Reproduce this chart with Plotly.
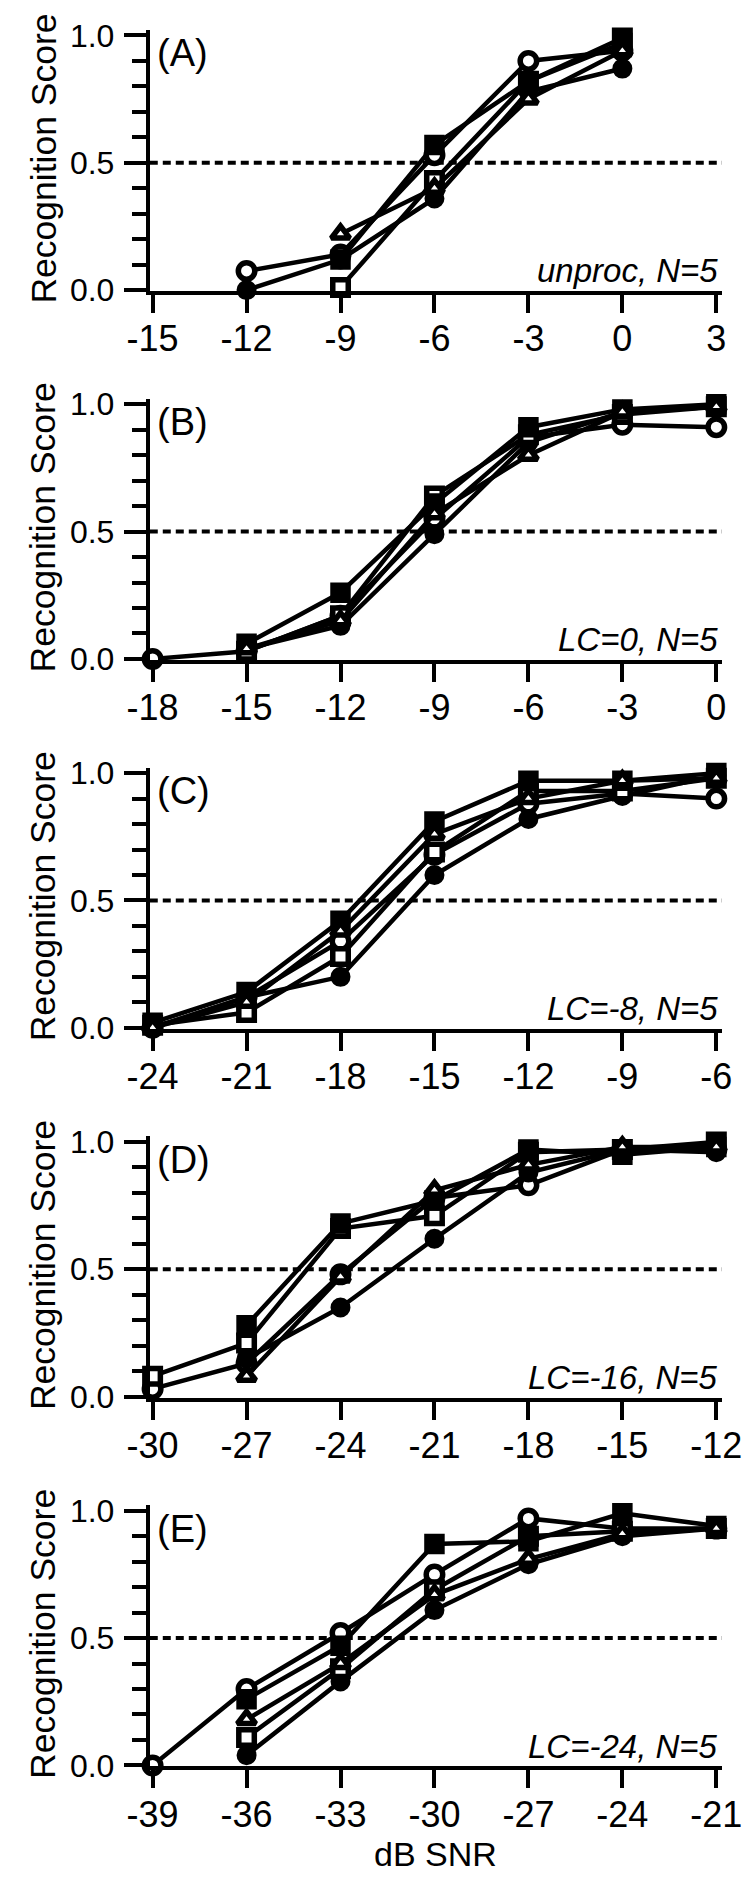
import plotly.graph_objects as go

# ---------------- data ----------------
panel_letters = ["(A)", "(B)", "(C)", "(D)", "(E)"]
panel_notes = ["unproc, N=5", "LC=0, N=5", "LC=-8, N=5", "LC=-16, N=5", "LC=-24, N=5"]

x_A = [-12, -9, -6, -3, 0]
x_B = [-18, -15, -12, -9, -6, -3, 0]
x_C = [-24, -21, -18, -15, -12, -9, -6]
x_D = [-30, -27, -24, -21, -18, -15, -12]
x_E = [-39, -36, -33, -30, -27, -24, -21]

ticks_A = [-15, -12, -9, -6, -3, 0, 3]
ticks_B = [-18, -15, -12, -9, -6, -3, 0]
ticks_C = [-24, -21, -18, -15, -12, -9, -6]
ticks_D = [-30, -27, -24, -21, -18, -15, -12]
ticks_E = [-39, -36, -33, -30, -27, -24, -21]

# series: open circle, filled circle, open square, filled square, open triangle
A_open_circle = [0.075, 0.14, 0.53, 0.90, 0.94]
A_filled_circle = [0.00, 0.12, 0.36, 0.78, 0.87]
A_open_square = [None, 0.01, 0.43, 0.82, 0.99]
A_filled_square = [None, 0.12, 0.57, 0.82, 0.97]
A_open_triangle = [None, 0.22, 0.40, 0.75, 0.94]

B_open_circle = [0.00, 0.03, 0.17, 0.55, 0.87, 0.92, 0.91]
B_filled_circle = [None, 0.04, 0.13, 0.49, 0.85, 0.97, 0.99]
B_open_square = [None, 0.03, 0.17, 0.64, 0.88, 0.96, 0.99]
B_filled_square = [None, 0.06, 0.26, 0.61, 0.91, 0.98, 1.00]
B_open_triangle = [None, 0.04, 0.15, 0.57, 0.80, 0.97, 0.99]

C_open_circle = [0.00, 0.12, 0.34, 0.68, 0.88, 0.92, 0.90]
C_filled_circle = [0.00, 0.12, 0.20, 0.60, 0.82, 0.91, 0.99]
C_open_square = [0.01, 0.06, 0.28, 0.69, 0.93, 0.93, 0.98]
C_filled_square = [0.02, 0.14, 0.42, 0.81, 0.97, 0.97, 1.00]
C_open_triangle = [0.00, 0.10, 0.38, 0.76, 0.90, 0.97, 0.98]

D_open_circle = [0.03, 0.13, 0.48, 0.78, 0.83, 0.97, 0.97]
D_filled_circle = [None, 0.15, 0.35, 0.62, 0.88, 0.97, 0.96]
D_open_square = [0.08, 0.21, 0.66, 0.71, 0.96, 0.97, 1.00]
D_filled_square = [None, 0.28, 0.68, 0.77, 0.97, 0.95, 0.98]
D_open_triangle = [None, 0.08, 0.47, 0.81, 0.91, 0.98, 0.98]

E_open_circle = [0.00, 0.30, 0.52, 0.75, 0.97, 0.93, 0.93]
E_filled_circle = [None, 0.04, 0.33, 0.61, 0.79, 0.90, 0.93]
E_open_square = [None, 0.11, 0.38, 0.69, 0.90, 0.92, 0.93]
E_filled_square = [None, 0.26, 0.47, 0.87, 0.88, 0.99, 0.94]
E_open_triangle = [None, 0.18, 0.40, 0.67, 0.81, 0.91, 0.93]

panels = [
    (x_A, ticks_A, [A_open_circle, A_filled_circle, A_open_square, A_filled_square, A_open_triangle]),
    (x_B, ticks_B, [B_open_circle, B_filled_circle, B_open_square, B_filled_square, B_open_triangle]),
    (x_C, ticks_C, [C_open_circle, C_filled_circle, C_open_square, C_filled_square, C_open_triangle]),
    (x_D, ticks_D, [D_open_circle, D_filled_circle, D_open_square, D_filled_square, D_open_triangle]),
    (x_E, ticks_E, [E_open_circle, E_filled_circle, E_open_square, E_filled_square, E_open_triangle]),
]

# ---------------- styling ----------------
W, H = 750, 1884
FONT = "Liberation Sans, Arial, Helvetica, sans-serif"
series_style = [
    dict(symbol="circle", color="white", size=16.5),
    dict(symbol="circle", color="black", size=14.5),
    dict(symbol="square", color="white", size=15.5),
    dict(symbol="square", color="black", size=15),
    dict(symbol="triangle-up", color="white", size=16),
]
MARKER_LINE = 5.5

ax_left_px, ax_right_px = 126, 733
panel_top0 = 15.7      # pixel of y=1.0 in first panel
panel_step = 374.6
unit_px = 258.6
y_lo, y_hi = -0.004, 1.022
px_per_db = 33.2

fig = go.Figure()
layout = dict(width=W, height=H, margin=dict(l=0, r=0, t=0, b=0),
              paper_bgcolor="white", plot_bgcolor="white", showlegend=False,
              font=dict(family=FONT, color="black"))
shapes, annotations = [], []

for i, (xs, ticks, series) in enumerate(panels):
    n = "" if i == 0 else str(i + 1)
    y1_px = panel_top0 + panel_step * i
    top_px = y1_px - (y_hi - 1) * unit_px
    bot_px = y1_px + unit_px + (-y_lo) * unit_px
    xmin, xmax = ticks[0], ticks[-1]
    layout["xaxis" + n] = dict(
        domain=[ax_left_px / W, ax_right_px / W],
        range=[xmin - 3 / px_per_db, xmax + 6 / px_per_db],
        anchor="y" + n, tickvals=ticks, ticktext=[str(t) for t in ticks],
        showline=True, linewidth=4, linecolor="black", mirror=False,
        ticks="outside", ticklen=18, tickwidth=4, tickcolor="black",
        ticklabelstandoff=-5,
        tickfont=dict(family=FONT, size=36, color="black"),
        showgrid=False, zeroline=False, fixedrange=True,
    )
    layout["yaxis" + n] = dict(
        domain=[1 - bot_px / H, 1 - top_px / H],
        range=[y_lo, y_hi], anchor="x" + n,
        tickvals=[0, 0.5, 1.0], ticktext=["0.0", "0.5", "1.0"],
        showline=True, linewidth=4, linecolor="black",
        ticks="outside", ticklen=22, tickwidth=4, tickcolor="black",
        ticklabelstandoff=3,
        minor=dict(tickvals=[0.1, 0.2, 0.3, 0.4, 0.6, 0.7, 0.8, 0.9],
                   ticks="outside", ticklen=14, tickwidth=4, tickcolor="black"),
        tickfont=dict(family=FONT, size=32, color="black"),
        showgrid=False, zeroline=False, fixedrange=True,
    )
    shapes.append(dict(type="line", xref="x" + n + " domain", x0=0, x1=1,
                       yref="y" + n, y0=0.5, y1=0.5, layer="below",
                       line=dict(color="black", width=4, dash="8px,5px")))
    for ys, st in zip(series, series_style):
        fig.add_trace(go.Scatter(
            x=xs, y=ys, xaxis="x" + n, yaxis="y" + n, mode="lines+markers",
            connectgaps=False, cliponaxis=False,
            line=dict(color="black", width=4.5),
            marker=dict(symbol=st["symbol"], size=st["size"], color=st["color"],
                        line=dict(color="black", width=MARKER_LINE)),
        ))
    annotations.append(dict(text=panel_letters[i], xref="paper", yref="paper",
                            x=131.5 / W, y=1 - (y1_px + 18) / H, xanchor="left", yanchor="middle",
                            showarrow=False, font=dict(family=FONT, size=38, color="black")))
    annotations.append(dict(text="<i>" + panel_notes[i] + "</i>", xref="paper", yref="paper",
                            x=731 / W, y=1 - (y1_px + 239) / H, xanchor="right", yanchor="middle",
                            showarrow=False, font=dict(family=FONT, size=33, color="black")))
    annotations.append(dict(text="Recognition Score", xref="paper", yref="paper",
                            x=12.8 / W, y=1 - (y1_px + 125) / H, xanchor="center", yanchor="middle",
                            textangle=-90, showarrow=False,
                            font=dict(family=FONT, size=35.5, color="black")))

annotations.append(dict(text="dB SNR", xref="paper", yref="paper",
                        x=((ax_left_px + ax_right_px) / 2) / W, y=0,
                        xanchor="center", yanchor="bottom", showarrow=False,
                        font=dict(family=FONT, size=34, color="black")))

layout["shapes"] = shapes
layout["annotations"] = annotations
fig.update_layout(**layout)
fig.write_html("out.html")
